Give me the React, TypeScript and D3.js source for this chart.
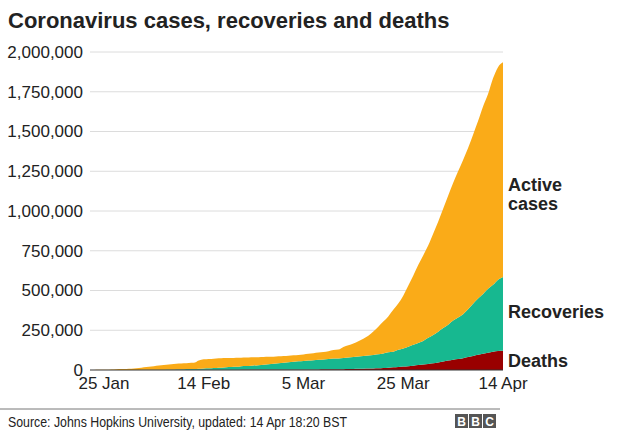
import React from "react";
import * as d3 from "d3";

const startDate = new Date(2020, 0, 22);
const endDate = new Date(2020, 3, 14);

const confirmed = [
  555, 654, 941, 1434, 2118, 2927, 5578, 6166, 8234, 9927,
  12038, 16787, 19881, 23892, 27635, 30794, 34391, 37120, 40150, 42762,
  44802, 45221, 60368, 66885, 69030, 71224, 73258, 75136, 75639, 76197,
  76819, 78572, 78958, 79561, 80406, 81388, 82746, 84112, 86011, 88369,
  90306, 92840, 95120, 97886, 101801, 105847, 109821, 113590, 118620, 125875,
  128352, 145205, 156101, 167454, 181574, 197102, 214821, 242570, 272208, 304507,
  336953, 378235, 418045, 467653, 529591, 593291, 660706, 720117, 782365, 857487,
  932605, 1013466, 1095917, 1176060, 1249754, 1321481, 1396476, 1480202, 1565278, 1657526,
  1735650, 1834721, 1904838, 1935000,
];

const recovered = [
  28, 30, 36, 39, 52, 61, 107, 126, 143, 222,
  284, 472, 623, 852, 1124, 1487, 2011, 2616, 3244, 3946,
  4683, 5150, 6295, 8058, 9395, 10865, 12583, 14352, 16121, 18177,
  18890, 22886, 23394, 25227, 27905, 30384, 33277, 36711, 39782, 42716,
  45602, 48228, 51171, 53797, 55866, 58359, 60694, 62494, 64404, 67003,
  68324, 70251, 72624, 76034, 78088, 80840, 83207, 84854, 87256, 91499,
  97704, 98334, 107990, 113787, 122150, 130915, 139415, 149082, 164566, 178034,
  193177, 210263, 225796, 246152, 260012, 276515, 300054, 328661, 353975, 376096,
  402110, 421722, 448655, 465000,
];

const deaths = [
  17, 18, 26, 42, 56, 82, 131, 133, 171, 213,
  259, 362, 426, 492, 564, 634, 719, 806, 906, 1013,
  1113, 1118, 1371, 1523, 1666, 1770, 1868, 2007, 2122, 2247,
  2251, 2458, 2469, 2629, 2708, 2770, 2814, 2872, 2941, 2996,
  3085, 3160, 3254, 3348, 3460, 3558, 3802, 3988, 4262, 4615,
  4720, 5404, 5819, 6440, 7126, 7905, 8733, 9867, 11299, 13014,
  14628, 16525, 18874, 21358, 24072, 27211, 30855, 33957, 37583, 42120,
  47004, 53293, 59222, 64736, 69442, 74636, 81913, 88403, 95745, 102659,
  108504, 114069, 119547, 120500,
];

const yTicks = [0, 250000, 500000, 750000, 1000000, 1250000, 1500000, 1750000, 2000000];
const xTickDates = [
  new Date(2020, 0, 25),
  new Date(2020, 1, 14),
  new Date(2020, 2, 5),
  new Date(2020, 2, 25),
  new Date(2020, 3, 14),
];

const seriesKeys = ["deaths", "recovered", "active"];
const seriesColors: Record<string, string> = {
  deaths: "#990000",
  recovered: "#17B890",
  active: "#FAAB18",
};

export default function App() {
  const W = 640;
  const H = 440;
  const left = 89;
  const right = 503;
  const top = 52;
  const bottom = 370;

  const dates = d3.timeDay.range(startDate, d3.timeDay.offset(endDate, 1));
  const rows = dates.map((d, i) => ({
    date: d,
    deaths: deaths[i],
    recovered: recovered[i],
    active: confirmed[i] - recovered[i] - deaths[i],
  }));

  const x = d3.scaleTime().domain([startDate, endDate]).range([left, right]);
  const y = d3.scaleLinear().domain([0, 2000000]).range([bottom, top]);

  const stacked = d3.stack<any>().keys(seriesKeys)(rows);
  const area = d3
    .area<any>()
    .x((d) => x(d.data.date))
    .y0((d) => y(d[0]))
    .y1((d) => y(d[1]))
    .curve(d3.curveMonotoneX);

  const fmt = d3.format(",");
  const fmtDate = d3.timeFormat("%-d %b");
  const font = "'Liberation Sans', Arial, Helvetica, sans-serif";

  return (
    <svg width={W} height={H} style={{ position: "absolute", left: 0, top: 0, background: "#fff" }} fontFamily={font}>
      <text x={8} y={28} fontSize={22} fontWeight="bold" fill="#222">
        Coronavirus cases, recoveries and deaths
      </text>
      {yTicks.map((t) => (
        <g key={t}>
          {t !== 0 && (
            <line x1={left + 1} x2={right} y1={y(t)} y2={y(t)} stroke="#dcdcdc" strokeWidth={1} />
          )}
          <text x={83} y={y(t)} dy="0.35em" textAnchor="end" fontSize={17} fill="#222">
            {fmt(t)}
          </text>
        </g>
      ))}
      {stacked.map((s) => (
        <path key={s.key} d={area(s) || ""} fill={seriesColors[s.key]} />
      ))}
      <line x1={left + 1} x2={right} y1={bottom} y2={bottom} stroke="#333" strokeWidth={1} />
      {xTickDates.map((d) => (
        <text key={d.toISOString()} x={x(d)} y={389} textAnchor="middle" fontSize={17} fill="#222">
          {fmtDate(d)}
        </text>
      ))}
      <text x={508} y={191} fontSize={18} fontWeight="bold" fill="#222">Active</text>
      <text x={508} y={210} fontSize={18} fontWeight="bold" fill="#222">cases</text>
      <text x={508} y={318} fontSize={18} fontWeight="bold" fill="#222">Recoveries</text>
      <text x={508} y={367} fontSize={18} fontWeight="bold" fill="#222">Deaths</text>
      <line x1={0} x2={500} y1={409} y2={409} stroke="#777" strokeWidth={1} />
      <text x={8} y={427} fontSize={14} fill="#222" textLength={339} lengthAdjust="spacingAndGlyphs">
        Source: Johns Hopkins University, updated: 14 Apr 18:20 BST
      </text>
      {["B", "B", "C"].map((ch, i) => (
        <g key={i}>
          <rect x={455 + i * 14} y={414} width={13} height={14} fill="#555" />
          <text x={455 + i * 14 + 6.5} y={426} textAnchor="middle" fontSize={12} fontWeight="bold" fill="#fff">
            {ch}
          </text>
        </g>
      ))}
    </svg>
  );
}
